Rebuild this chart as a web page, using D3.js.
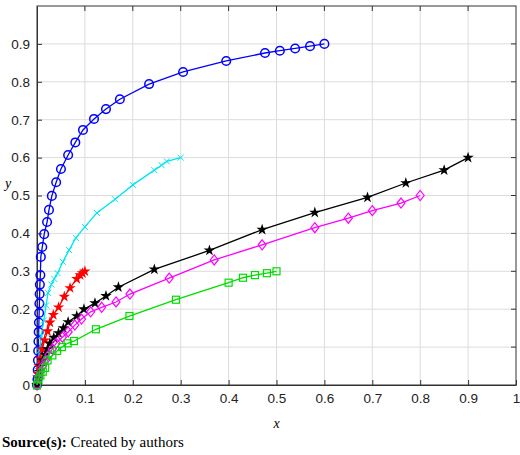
<!DOCTYPE html>
<html><head><meta charset="utf-8">
<script src="https://cdn.jsdelivr.net/npm/d3@7"></script>
<style>body{margin:0;background:#fff}</style>
</head><body><svg id="chart"></svg>
<script>
// values
const blueX = [0,0.001,0.0015,0.002,0.0025,0.003,0.0035,0.004,0.0045,0.005,0.0055,0.006,0.007,0.008,0.011,0.015,0.021,0.025,0.031,0.040,0.050,0.065,0.080,0.096,0.119,0.144,0.173,0.234,0.305,0.395,0.476,0.507,0.539,0.57,0.6];
const blueY = [0,0.015,0.04,0.065,0.09,0.115,0.14,0.165,0.19,0.215,0.24,0.265,0.29,0.338,0.364,0.398,0.43,0.462,0.499,0.535,0.57,0.607,0.64,0.673,0.702,0.728,0.754,0.794,0.826,0.855,0.876,0.882,0.888,0.894,0.9];
const cyanX = [0,0.002,0.005,0.009,0.014,0.019,0.023,0.03,0.036,0.043,0.054,0.067,0.081,0.1,0.125,0.163,0.2,0.245,0.26,0.271,0.3];
const cyanY = [0,0.05,0.09,0.13,0.17,0.21,0.243,0.265,0.28,0.295,0.325,0.356,0.388,0.417,0.454,0.49,0.528,0.567,0.58,0.59,0.6];
const redX = [0,0.002,0.004,0.007,0.011,0.016,0.022,0.027,0.034,0.045,0.057,0.069,0.083,0.09,0.095,0.1];
const redY = [0,0.03,0.05,0.07,0.095,0.118,0.142,0.165,0.185,0.205,0.233,0.256,0.28,0.29,0.295,0.3];
const blackX = [0,0.002,0.005,0.008,0.012,0.017,0.022,0.027,0.035,0.045,0.055,0.065,0.083,0.098,0.121,0.144,0.17,0.245,0.36,0.47,0.58,0.69,0.77,0.85,0.9];
const blackY = [0,0.02,0.035,0.05,0.065,0.08,0.095,0.11,0.125,0.137,0.15,0.166,0.182,0.2,0.216,0.235,0.258,0.305,0.355,0.41,0.455,0.495,0.533,0.567,0.6];
const magX = [0,0.003,0.007,0.012,0.018,0.025,0.032,0.04,0.053,0.065,0.079,0.093,0.112,0.135,0.165,0.194,0.276,0.37,0.47,0.58,0.65,0.7,0.76,0.8];
const magY = [0,0.02,0.035,0.05,0.065,0.08,0.095,0.11,0.126,0.14,0.158,0.174,0.193,0.205,0.219,0.24,0.282,0.33,0.37,0.415,0.44,0.46,0.48,0.5];
const greenX = [0,0.003,0.007,0.012,0.017,0.022,0.032,0.042,0.052,0.064,0.077,0.123,0.193,0.29,0.4,0.43,0.455,0.48,0.5];
const greenY = [0,0.015,0.025,0.035,0.045,0.065,0.078,0.09,0.1,0.11,0.116,0.147,0.182,0.225,0.27,0.283,0.29,0.295,0.3];
const xTicks = [0,0.1,0.2,0.3,0.4,0.5,0.6,0.7,0.8,0.9,1];
const yTicks = [0,0.1,0.2,0.3,0.4,0.5,0.6,0.7,0.8,0.9];

const series = [
  {xs: blueX, ys: blueY, color: "#0000ff", marker: "circle"},
  {xs: cyanX, ys: cyanY, color: "#00e5ee", marker: "x"},
  {xs: redX, ys: redY, color: "#ff0000", marker: "star"},
  {xs: blackX, ys: blackY, color: "#000000", marker: "star"},
  {xs: magX, ys: magY, color: "#ff00ff", marker: "diamond"},
  {xs: greenX, ys: greenY, color: "#00dd00", marker: "square"}
];

const W = 520, H = 455;
const m = {left: 37, right: 4, top: 6, bottom: 70};
const svg = d3.select("#chart").attr("width", W).attr("height", H)
  .style("font-family", "Liberation Sans, Arial, sans-serif");

const x = d3.scaleLinear().domain([0, 1]).range([m.left, W - m.right]);
const y = d3.scaleLinear().domain([0, 1]).range([H - m.bottom, m.top]);

// grid
svg.append("g").selectAll("line").data(xTicks.slice(1, -1)).join("line")
  .attr("x1", d => x(d)).attr("x2", d => x(d)).attr("y1", y(0)).attr("y2", y(1))
  .attr("stroke", "#dcdcdc").attr("stroke-width", 1);
svg.append("g").selectAll("line").data(yTicks.slice(1)).join("line")
  .attr("x1", x(0)).attr("x2", x(1)).attr("y1", d => y(d)).attr("y2", d => y(d))
  .attr("stroke", "#dcdcdc").attr("stroke-width", 1);

// axes
const xAxis = svg.append("g").attr("transform", `translate(0,${y(0)})`)
  .call(d3.axisBottom(x).tickValues(xTicks).tickFormat(d3.format("")).tickSizeInner(-5).tickSizeOuter(0).tickPadding(8));
const yAxis = svg.append("g").attr("transform", `translate(${x(0)},0)`)
  .call(d3.axisLeft(y).tickValues(yTicks).tickFormat(d3.format("")).tickSizeInner(-5).tickSizeOuter(0).tickPadding(7));
[xAxis, yAxis].forEach(a => {
  a.selectAll("text").style("font-size", "13.5px").attr("fill", "#222");
  a.selectAll("line").attr("stroke", "#333");
  a.select(".domain").attr("stroke", "#333");
});
// top/right frame
svg.append("rect").attr("x", x(0)).attr("y", y(1)).attr("width", x(1) - x(0)).attr("height", y(0) - y(1))
  .attr("fill", "none").attr("stroke", "#333");
svg.append("g").selectAll("line").data(xTicks.slice(1, -1)).join("line")
  .attr("x1", d => x(d)).attr("x2", d => x(d)).attr("y1", y(1)).attr("y2", y(1) + 5).attr("stroke", "#333");
svg.append("g").selectAll("line").data(yTicks.slice(1)).join("line")
  .attr("x1", x(1)).attr("x2", x(1) - 5).attr("y1", d => y(d)).attr("y2", d => y(d)).attr("stroke", "#333");

// curves
const line = d3.line().x(d => x(d[0])).y(d => y(d[1]));
const star = d3.symbol().type(d3.symbolStar).size(40);
series.forEach(s => {
  const pts = s.xs.map((v, i) => [v, s.ys[i]]);
  svg.append("path").datum(pts).attr("d", line).attr("fill", "none").attr("stroke", s.color).attr("stroke-width", 1.3);
  const g = svg.append("g").selectAll("g").data(pts).join("g")
    .attr("transform", d => `translate(${x(d[0])},${y(d[1])})`);
  if (s.marker === "circle") {
    g.append("circle").attr("r", 4.3).attr("fill", "none").attr("stroke", s.color).attr("stroke-width", 1.5);
  } else if (s.marker === "square") {
    g.append("rect").attr("x", -3.5).attr("y", -3.5).attr("width", 7).attr("height", 7)
      .attr("fill", "none").attr("stroke", s.color).attr("stroke-width", 1.2);
  } else if (s.marker === "diamond") {
    g.append("path").attr("d", "M0,-5L4,0L0,5L-4,0Z").attr("fill", "none").attr("stroke", s.color).attr("stroke-width", 1.2);
  } else if (s.marker === "x") {
    g.append("path").attr("d", "M-3,-3L3,3M-3,3L3,-3").attr("stroke", s.color).attr("stroke-width", 1);
  } else {
    g.append("path").attr("d", star).attr("fill", s.color);
  }
});

// labels
svg.append("text").attr("x", (x(0) + x(1)) / 2).attr("y", 428).attr("text-anchor", "middle")
  .style("font-family", "Liberation Serif, serif").style("font-style", "italic").style("font-size", "14px").text("x");
svg.append("text").attr("x", 8).attr("y", 188).attr("text-anchor", "middle")
  .style("font-family", "Liberation Serif, serif").style("font-style", "italic").style("font-size", "14px").text("y");
const src = svg.append("text").attr("x", 2).attr("y", 447)
  .style("font-family", "Liberation Serif, serif").style("font-size", "15px");
src.append("tspan").style("font-weight", "bold").text("Source(s):");
src.append("tspan").text(" Created by authors");
</script></body></html>
